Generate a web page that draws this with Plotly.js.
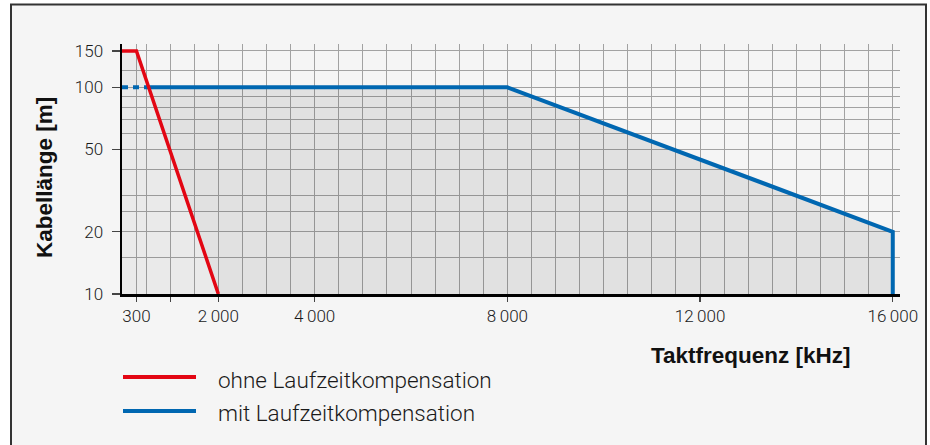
<!DOCTYPE html>
<html><head><meta charset="utf-8">
<script src="https://cdn.plot.ly/plotly-3.0.1.min.js"></script>
<style>html,body{margin:0;padding:0;background:#fff}</style>
</head><body><div id="chart" style="width:930px;height:445px"></div>
<script>
// ---- data ----
const seriesNames = ['ohne Laufzeitkompensation', 'mit Laufzeitkompensation'];
const redX = [0, 300, 2000];
const redY = [150, 150, 10];
const blueX = [0, 8000, 16000, 16000];
const blueY = [100, 100, 20, 10];
const xTickVals = [300, 1000, 2000, 4000, 8000, 12000, 16000];
const xTickText = ['300', '', '2\u2009000', '4\u2009000', '8\u2009000', '12\u2009000', '16\u2009000'];
const yTickVals = [10, 20, 50, 100, 150];
const yTickText = ['10', '20', '50', '100', '150'];
const yGridVals = [15, 25, 30, 40, 60, 70, 80, 90, 120];
const xTitle = 'Taktfrequenz [kHz]';
const yTitle = 'Kabellänge [m]';

// ---- styles ----
const RED = '#e30613', BLUE = '#0067b1', GRID = '#a2a2a2';
const yMin = 10, yMax = 162, xMax = 16150, xGridStep = 500;

const xGridVals = [];
for (let v = xGridStep; v <= 16000; v += xGridStep) if (!xTickVals.includes(v)) xGridVals.push(v);

// intersection of red line with the blue plateau (straight in log-y space)
const plateau = blueY[0];
let xc = redX[0];
for (let i = 0; i < redX.length - 1; i++) {
  if (redY[i] >= plateau && redY[i + 1] <= plateau && redY[i] !== redY[i + 1]) {
    const t = (Math.log10(redY[i]) - Math.log10(plateau)) / (Math.log10(redY[i]) - Math.log10(redY[i + 1]));
    xc = redX[i] + t * (redX[i + 1] - redX[i]);
    break;
  }
}

const traces = [
  { // light area under red line
    x: [redX[0], ...redX], y: [yMin, ...redY], fill: 'toself', mode: 'none',
    fillcolor: 'rgba(0,0,0,0.042)', showlegend: false, hoverinfo: 'skip'
  },
  { // darker area under blue line, right of red line
    x: [xc, ...blueX.slice(1), redX[redX.length - 1]],
    y: [plateau, ...blueY.slice(1), redY[redY.length - 1]],
    fill: 'toself', mode: 'none',
    fillcolor: 'rgba(0,0,0,0.078)', showlegend: false, hoverinfo: 'skip'
  },
  { // blue dashed part
    x: [blueX[0], xc], y: [blueY[0], plateau], mode: 'lines',
    line: { color: BLUE, width: 4, dash: '6px,5px' }, showlegend: false, hoverinfo: 'skip'
  },
  { // blue solid
    x: [xc, ...blueX.slice(1)], y: [plateau, ...blueY.slice(1)], mode: 'lines', name: seriesNames[1],
    line: { color: BLUE, width: 4 }, showlegend: false
  },
  { // red
    x: redX, y: redY, mode: 'lines', name: seriesNames[0],
    line: { color: RED, width: 3.5 }, showlegend: false
  }
];

// plot area geometry for paper coords
const L = 122, R = 30, T = 44, B = 151, W = 930, H = 445;
const pw = W - L - R, ph = H - T - B;
const px = v => (v - L) / pw;
const py = v => (H - B - v) / ph;

const tickFont = { family: 'Roboto, Liberation Sans, sans-serif', size: 17, color: '#1a1a1a', weight: 300 };
const titleFont = { family: 'Liberation Sans, Arial, sans-serif', size: 22.5, color: '#111', weight: 700 };
const legFont = { family: 'Roboto, Liberation Sans, sans-serif', size: 22.5, color: '#1a1a1a', weight: 300 };

const layout = {
  width: W, height: H,
  margin: { l: L, r: R, t: T, b: B, pad: 0 },
  paper_bgcolor: '#ffffff', plot_bgcolor: 'rgba(0,0,0,0)',
  xaxis: {
    range: [0, xMax], tickmode: 'array', tickvals: xTickVals, ticktext: xTickText,
    showgrid: true, gridcolor: GRID, gridwidth: 1,
    minor: { tickmode: 'array', tickvals: xGridVals, showgrid: true, gridcolor: GRID, gridwidth: 1, ticks: '' },
    ticks: 'outside', ticklen: 5, tickwidth: 1.2, tickcolor: '#444',
    showline: true, linecolor: '#000', linewidth: 2.5,
    zeroline: false, tickfont: tickFont, fixedrange: true
  },
  yaxis: {
    type: 'log', range: [Math.log10(yMin), Math.log10(yMax)],
    tickmode: 'array', tickvals: yTickVals, ticktext: yTickText,
    showgrid: true, gridcolor: GRID, gridwidth: 1,
    minor: { tickmode: 'array', tickvals: yGridVals, showgrid: true, gridcolor: GRID, gridwidth: 1, ticks: '' },
    ticks: 'outside', ticklen: 8, tickwidth: 1.2, tickcolor: '#444', ticklabelstandoff: 5,
    showline: true, linecolor: '#000', linewidth: 2.5,
    zeroline: false, tickfont: tickFont, fixedrange: true
  },
  shapes: [
    { type: 'rect', xref: 'paper', yref: 'paper', layer: 'below',
      x0: px(11), x1: px(926), y0: py(447), y1: py(4.5),
      fillcolor: '#f5f5f5', line: { color: '#333', width: 2 } },
    { type: 'line', xref: 'paper', yref: 'paper', x0: px(123), x1: px(196), y0: py(377), y1: py(377),
      line: { color: RED, width: 4 } },
    { type: 'line', xref: 'paper', yref: 'paper', x0: px(123), x1: px(196), y0: py(411), y1: py(411),
      line: { color: BLUE, width: 4 } }
  ],
  annotations: [
    { text: xTitle, xref: 'paper', yref: 'paper', x: px(751), y: py(355), xanchor: 'center', yanchor: 'middle',
      showarrow: false, font: titleFont },
    { text: yTitle, xref: 'paper', yref: 'paper', x: px(44), y: py(178), xanchor: 'center', yanchor: 'middle',
      textangle: -90, showarrow: false, font: titleFont },
    { text: seriesNames[0], xref: 'paper', yref: 'paper', x: px(216), y: py(380), xanchor: 'left', yanchor: 'middle',
      showarrow: false, font: legFont },
    { text: seriesNames[1], xref: 'paper', yref: 'paper', x: px(216), y: py(413), xanchor: 'left', yanchor: 'middle',
      showarrow: false, font: legFont }
  ],
  showlegend: false
};

Plotly.newPlot('chart', traces, layout, { displayModeBar: false, staticPlot: true });
</script></body></html>
